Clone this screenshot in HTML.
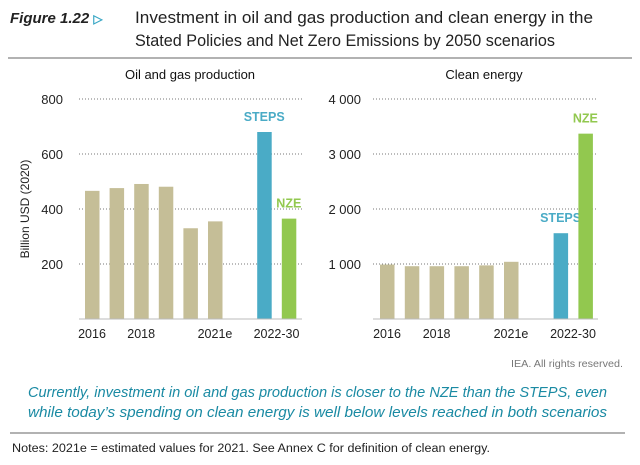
<!DOCTYPE html>
<html><head><meta charset="utf-8">
<style>
html,body{margin:0;padding:0;background:#fff;}
svg{display:block;font-family:"Liberation Sans",sans-serif;}
</style></head>
<body>
<svg id="fig" width="640" height="465" viewBox="0 0 640 465" xmlns="http://www.w3.org/2000/svg">
  <text x="10" y="23" font-size="15" font-weight="bold" font-style="italic" fill="#222">Figure 1.22 <tspan fill="#3aa7c5" font-style="normal" font-size="12">▷</tspan></text>
  <text x="135" y="23" font-size="16.5" fill="#222" textLength="458" lengthAdjust="spacingAndGlyphs">Investment in oil and gas production and clean energy in the</text>
  <text x="135" y="46" font-size="16.5" fill="#222" textLength="420" lengthAdjust="spacingAndGlyphs">Stated Policies and Net Zero Emissions by 2050 scenarios</text>
  <line x1="8" y1="58" x2="632" y2="58" stroke="#999" stroke-width="1.5"/>
  <text x="190" y="79" font-size="13" text-anchor="middle" fill="#111">Oil and gas production</text>
  <text x="484" y="79" font-size="13" text-anchor="middle" fill="#111">Clean energy</text>
  <text transform="translate(29,209) rotate(-90)" font-size="12" text-anchor="middle" fill="#222">Billion USD (2020)</text>
  <g id="left"></g>
  <g id="right"></g>
  <text x="511" y="367" font-size="10" fill="#777" textLength="112" lengthAdjust="spacingAndGlyphs">IEA. All rights reserved.</text>
  <text x="28" y="397" font-size="14.5" font-style="italic" fill="#1a8aa3" textLength="579" lengthAdjust="spacingAndGlyphs">Currently, investment in oil and gas production is closer to the NZE than the STEPS, even</text>
  <text x="28" y="417" font-size="14.5" font-style="italic" fill="#1a8aa3" textLength="579" lengthAdjust="spacingAndGlyphs">while today’s spending on clean energy is well below levels reached in both scenarios</text>
  <line x1="10" y1="433" x2="625" y2="433" stroke="#999" stroke-width="1.5"/>
  <text x="12" y="452" font-size="11.5" fill="#222" textLength="478" lengthAdjust="spacingAndGlyphs">Notes: 2021e = estimated values for 2021. See Annex C for definition of clean energy.</text>
</svg>
<script>
const categories = ["2016","2017","2018","2019","2020","2021e","STEPS","NZE"];
const oilGasValues = [466, 476, 491, 481, 330, 355, 680, 365];
const cleanValues = [990, 960, 960, 960, 975, 1040, 1560, 3370];
const oilTicks = [200, 400, 600, 800];
const oilTickLabels = ["200","400","600","800"];
const cleanTicks = [1000, 2000, 3000, 4000];
const cleanTickLabels = ["1 000","2 000","3 000","4 000"];
const xLabels = ["2016","2018","2021e","2022-30"];
const xLabelIdx = [0, 2, 5, 7.5];

const NS = "http://www.w3.org/2000/svg";
function mk(tag, attrs, parent){const e=document.createElementNS(NS,tag);for(const k in attrs)e.setAttribute(k,attrs[k]);parent.appendChild(e);return e;}

function draw(g, values, ticks, tickLabels, max, x0, x1, firstBar, step, labelX){
  const y0=319, yTop=99;
  const y = v => y0 - (v/max)*(y0-yTop);
  const slotX = i => i<6 ? firstBar + i*step : firstBar + (i+1)*step;
  ticks.forEach((t,i)=>{
    const l=mk("line",{x1:x0,x2:x1,y1:y(t),y2:y(t),stroke:"#777","stroke-width":1,"stroke-dasharray":"1,2"},g);
    
    
    const tx=mk("text",{x:labelX,y:y(t)+5,"font-size":13,"text-anchor":"end",fill:"#222"},g);
    tx.textContent=tickLabels[i];
    
    
  });
  values.forEach((v,i)=>{
    const col = i<6 ? "#c5be97" : (categories[i]==="STEPS" ? "#4aabc6" : "#92c84f");
    const r=mk("rect",{x:slotX(i),y:y(v),width:14.5,height:y0-y(v),fill:col},g);
    
    
    if(i>=6){
      const t=mk("text",{x:slotX(i)+7,y:y(v)-11,"font-size":12.5,"font-weight":"bold","text-anchor":"middle",fill:col},g);
      t.textContent=categories[i];
      
      
    }
  });
  const ax=mk("line",{x1:x0,x2:x1,y1:y0,y2:y0,stroke:"#bbb","stroke-width":1},g);
  
  
  xLabels.forEach((s,i)=>{
    const c = firstBar + xLabelIdx[i]*step + 7;
    const t=mk("text",{x:c,y:338,"font-size":12.5,"text-anchor":"middle",fill:"#222"},g);
    t.textContent=s;
    
    
  });
}
draw(document.getElementById("left"), oilGasValues, oilTicks, oilTickLabels, 800, 79, 302, 85, 24.6, 63);
draw(document.getElementById("right"), cleanValues, cleanTicks, cleanTickLabels, 4000, 373, 598, 380, 24.8, 361);
</script>
</body></html>
